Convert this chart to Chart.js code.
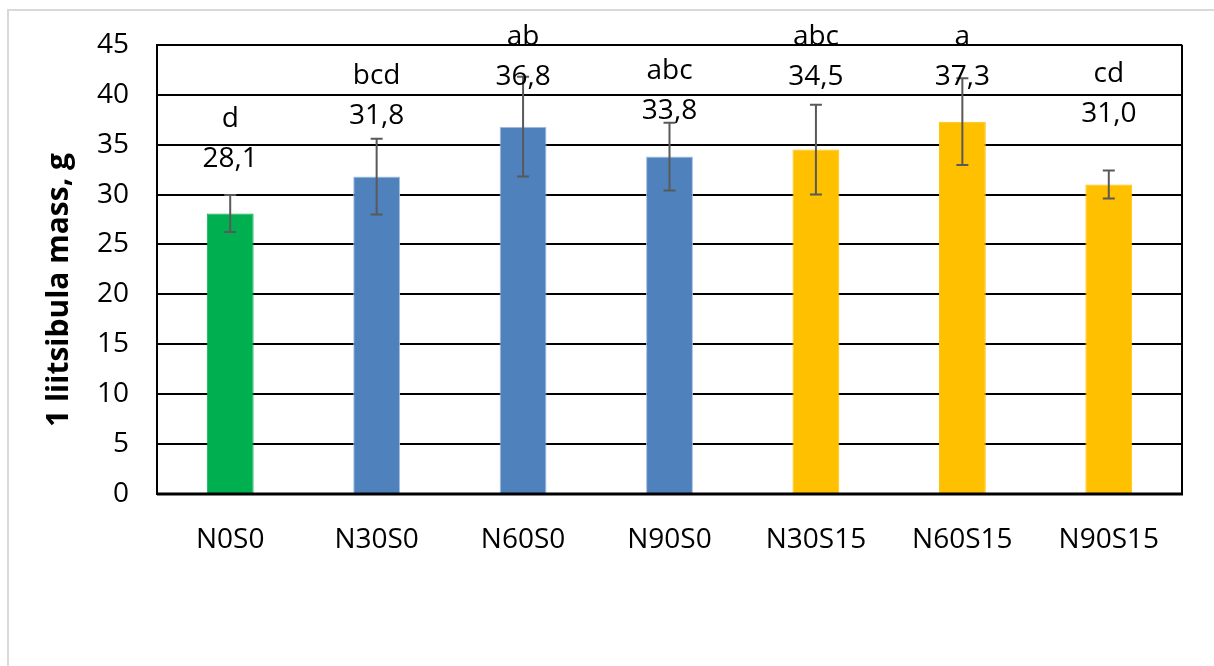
<!DOCTYPE html>
<html>
<head>
<meta charset="utf-8">
<script src="https://cdn.jsdelivr.net/npm/chart.js"></script>
<style>
html,body{margin:0;padding:0;background:#fff;}
#wrap{width:1214px;height:666px;position:relative;}
</style>
</head>
<body>
<div id="wrap"><canvas id="c" width="1214" height="666"></canvas></div>
<script>
const categories = ['N0S0','N30S0','N60S0','N90S0','N30S15','N60S15','N90S15'];
const means = [28.1, 31.8, 36.8, 33.8, 34.5, 37.3, 31.0];
const errors = [1.85, 3.8, 5.0, 3.4, 4.5, 4.35, 1.4];
const letters = ['d','bcd','ab','abc','abc','a','cd'];
const labelY = [32.8, 37.1, 41.0, 37.6, 41.0, 41.0, 37.3];
const yTicks = [0,5,10,15,20,25,30,35,40,45];
const axisTitle = '1 liitsibula mass, g';

const barColors = ['#00B050','#4F81BD','#4F81BD','#4F81BD','#FFC000','#FFC000','#FFC000'];
const barBorders = ['#00B050','#A7BFDE','#A7BFDE','#A7BFDE','#FFC000','#FFC000','#FFC000'];
const FONT = '"Open Sans", "Noto Sans", sans-serif';

const decor = {
  id: 'decor',
  beforeDraw(chart) {
    const ctx = chart.ctx;
    ctx.save();
    ctx.fillStyle = '#fff';
    ctx.fillRect(0, 0, chart.width, chart.height);
    ctx.strokeStyle = '#D9D9D9';
    ctx.lineWidth = 2;
    ctx.strokeRect(8, 10, chart.width + 40, chart.height + 40);
    ctx.restore();
  },
  afterDatasetsDraw(chart) {
    const ctx = chart.ctx;
    const meta = chart.getDatasetMeta(0);
    const ys = chart.scales.y;
    const a = chart.chartArea;
    ctx.save();
    ctx.strokeStyle = '#000';
    ctx.lineWidth = 2;
    ctx.beginPath();
    ctx.moveTo(a.right, a.top);
    ctx.lineTo(a.right, a.bottom);
    ctx.stroke();
    ctx.lineWidth = 3;
    ctx.beginPath();
    ctx.moveTo(a.left, a.bottom);
    ctx.lineTo(a.right + 1, a.bottom);
    ctx.stroke();
    ctx.strokeStyle = '#595959';
    ctx.lineWidth = 2;
    meta.data.forEach((bar, i) => {
      const x = bar.x;
      const yT = ys.getPixelForValue(means[i] + errors[i]);
      const yB = ys.getPixelForValue(means[i] - errors[i]);
      ctx.beginPath();
      ctx.moveTo(x, yT); ctx.lineTo(x, yB);
      ctx.moveTo(x - 6, yT); ctx.lineTo(x + 6, yT);
      ctx.moveTo(x - 6, yB); ctx.lineTo(x + 6, yB);
      ctx.stroke();
    });
    ctx.fillStyle = '#000';
    ctx.font = '28px ' + FONT;
    ctx.textAlign = 'center';
    ctx.textBaseline = 'alphabetic';
    meta.data.forEach((bar, i) => {
      const y = ys.getPixelForValue(labelY[i]);
      ctx.fillText(means[i].toFixed(1).replace('.', ','), bar.x, y);
      ctx.fillText(letters[i], bar.x, y - 40);
    });
    ctx.font = 'bold 30px ' + FONT;
    ctx.translate(59, 290);
    ctx.rotate(-Math.PI / 2);
    ctx.textBaseline = 'middle';
    ctx.fillText(axisTitle, 0, 0);
    ctx.restore();
  }
};

new Chart(document.getElementById('c'), {
  type: 'bar',
  data: {
    labels: categories,
    datasets: [{
      data: means,
      backgroundColor: barColors,
      borderColor: barBorders,
      borderWidth: 1,
      categoryPercentage: 1,
      barPercentage: 0.32
    }]
  },
  options: {
    responsive: false,
    animation: false,
    devicePixelRatio: 1,
    layout: { padding: { left: 0, top: 43, right: 32, bottom: 0 } },
    plugins: { legend: { display: false }, tooltip: { enabled: false } },
    scales: {
      x: {
        grid: { display: false, drawTicks: false },
        border: { display: false },
        ticks: { color: '#000', font: { family: FONT, size: 28 }, padding: 29, maxRotation: 0 },
        afterFit(s) { s.height = 172; }
      },
      y: {
        min: 0, max: 45,
        afterBuildTicks(s) { s.ticks = yTicks.map(v => ({ value: v })); },
        grid: { color: '#000', lineWidth: 2, drawTicks: false },
        border: { display: true, color: '#000', width: 2 },
        ticks: { color: '#000', font: { family: FONT, size: 28 }, padding: 28 },
        afterFit(s) { s.width = 157; }
      }
    }
  },
  plugins: [decor]
});
</script>
</body>
</html>
